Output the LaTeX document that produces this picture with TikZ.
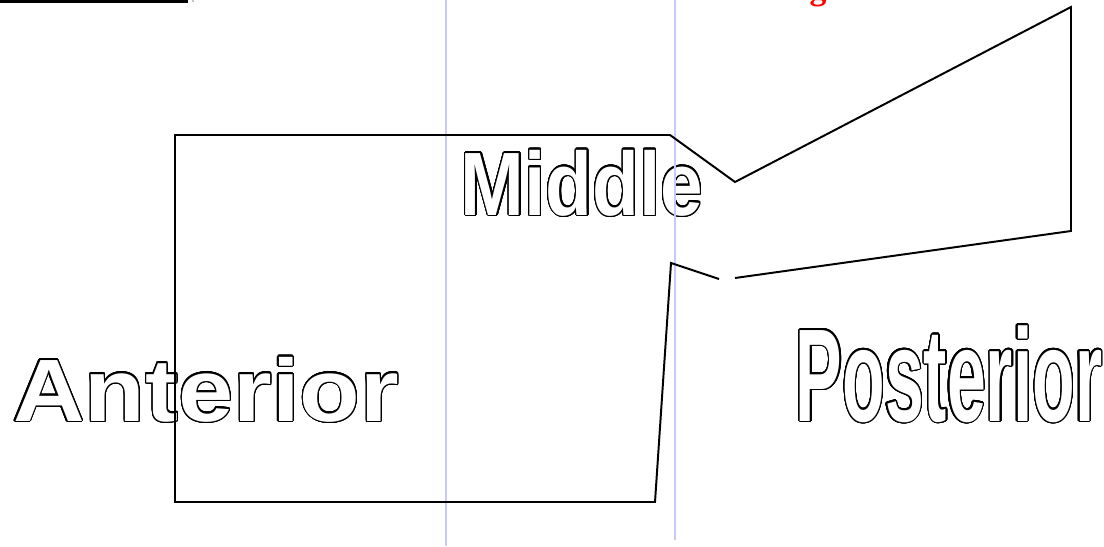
\documentclass[tikz,border=0pt]{standalone}
\usepackage{fontspec}
\usepackage{contour}
\setmainfont{Liberation Serif}
\newfontfamily\wideface{Liberation Sans Bold}[FakeStretch=1.12]
\newfontfamily\midface{Liberation Sans Bold}[FakeStretch=0.85]
\newfontfamily\narrowface{Liberation Sans Bold}[FakeStretch=0.528]
\contourlength{0.9pt}
\contournumber{32}
\newcommand{\hollow}[1]{\contour{black}{\textcolor{white}{#1}}}

\begin{document}
\begin{tikzpicture}[
  x=0.025cm, y=-0.025cm,
  region/.style={anchor=base,inner sep=0pt,outer sep=0pt},
  guide/.style={draw={rgb,255:red,200;green,200;blue,255},line width=1.8pt},
  outline/.style={draw=black,line width=1.4pt,line join=miter}
]
  \useasboundingbox (0,0) rectangle (1104,546);

  % region labels
  \node[region,font={\wideface\fontsize{63}{70}\selectfont}] (anterior) at (206,421) {\hollow{Anterior}};
  \node[region,font={\midface\fontsize{64}{72}\selectfont}] (middle) at (582,215) {\hollow{Middle}};
  \node[region,font={\narrowface\fontsize{94}{100}\selectfont}] (posterior) at (949,421) {\hollow{Posterior}};

  % guides
  \draw[guide] (446,0) -- (446,546);
  \draw[guide] (675,0) -- (675,540);

  % body outline
  \draw[outline] (719,279) -- (671,263) -- (655,502) -- (175,502) -- (175,135)
    -- (670,135) -- (735,182) -- (1071,7) -- (1071,231) -- (735,278);

  % cut-off bits at the top edge
  \draw[line width=2.2pt] (0,1.5) -- (188,1.5);
  \fill (193,1) circle (0.6);
  \node[region,text=red,font={\bfseries\fontsize{24}{28}\selectfont}] (heading) at (818,-1) {g};
\end{tikzpicture}
\end{document}
